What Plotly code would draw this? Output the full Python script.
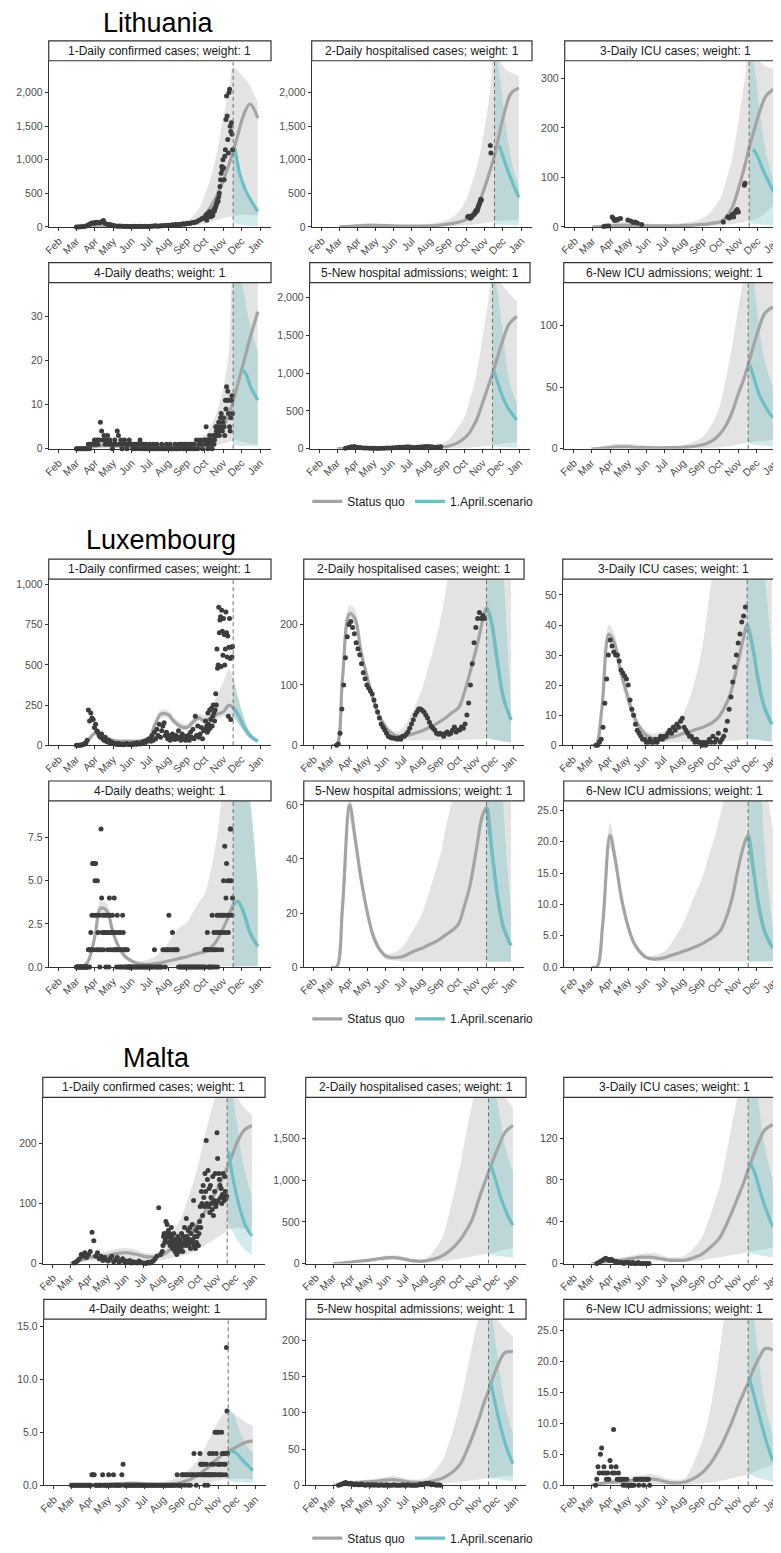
import pandas as pd
import plotly.graph_objects as go

W, H = 781, 1553

# ---------------- shared date grids ----------------
GRID = ["03-01", "03-10", "03-20", "04-01", "04-10", "04-20", "05-01", "05-10", "05-20",
        "06-01", "06-10", "06-20", "07-01", "07-10", "07-20", "08-01", "08-10", "08-20",
        "09-01", "09-10", "09-20", "10-01", "10-10", "10-20", "11-01", "11-10", "11-17",
        "11-25", "12-05", "12-15", "12-28"]
SC_GRID = ["11-17", "11-25", "12-05", "12-15", "12-28"]
FORECAST_START = "2020-11-17"
MONTH_TICKS = ["2020-02-01", "2020-03-01", "2020-04-01", "2020-05-01", "2020-06-01", "2020-07-01",
               "2020-08-01", "2020-09-01", "2020-10-01", "2020-11-01", "2020-12-01", "2021-01-01"]
MONTH_LABELS = ["Feb", "Mar", "Apr", "May", "Jun", "Jul", "Aug", "Sep", "Oct", "Nov", "Dec", "Jan"]
COUNTRIES = ["Lithuania", "Luxembourg", "Malta"]
TITLES = ["1-Daily confirmed cases; weight: 1", "2-Daily hospitalised cases; weight: 1",
          "3-Daily ICU cases; weight: 1", "4-Daily deaths; weight: 1",
          "5-New hospital admissions; weight: 1", "6-New ICU admissions; weight: 1"]
LEGEND_NAMES = ["Status quo", "1.April.scenario"]

# ================= LITHUANIA =================
LT1_sq = [0, 3, 10, 20, 25, 25, 20, 15, 12, 10, 10, 10, 10, 12, 15, 18, 22, 30, 40, 55, 90, 180, 290, 450, 700, 930, 1120, 1380, 1680, 1830, 1620]
LT1_lo = [0, 0, 2, 5, 8, 8, 6, 5, 4, 3, 3, 3, 3, 3, 4, 5, 6, 8, 10, 15, 25, 45, 70, 100, 130, 150, 165, 175, 180, 180, 170]
LT1_hi = [0, 10, 30, 50, 60, 60, 50, 40, 30, 25, 22, 22, 22, 25, 30, 38, 45, 60, 90, 150, 260, 480, 720, 1050, 1650, 2050, 2380, 2320, 2220, 2100, 1850]
LT1_sc_x = ["11-20", "11-28", "12-07", "12-17", "12-28"]
LT1_sc = [1170, 790, 560, 390, 230]
LT1_sc_lo = [60, 40, 25, 15, 10]
LT1_sc_hi = [1250, 880, 620, 430, 280]
LT1_obs_a = [0, 0, 1, 2, 5, 10, 20, 35, 50, 60, 55, 70, 65, 60, 75, 95, 50, 40, 35, 30, 25,
             15, 12, 10, 12, 8, 10, 6, 8, 5, 7, 5, 8, 4, 6, 10, 5, 4, 8, 6, 5,
             8, 10, 12, 15, 10, 12, 18, 15, 20, 22, 25, 20, 30, 28, 35, 30, 40, 35, 45, 40, 50,
             55, 50, 60, 65, 70, 80, 100, 110, 130]
LT1_obs_b = [140, 120, 180, 100, 160, 200, 150, 170, 230, 190, 150, 180, 200, 170, 220, 260, 240, 280, 300, 330,
             360, 400, 380, 450, 500, 600, 700, 800, 900, 850, 1000, 880, 700, 1050, 1150, 1600, 1950, 1650, 1300, 1100, 2000,
             2050, 1500, 1420, 1550, 1380, 1150]

LT2_sq = [0, 3, 8, 15, 20, 22, 22, 20, 18, 15, 12, 10, 10, 10, 12, 15, 20, 28, 40, 55, 75, 110, 180, 320, 600, 850, 1060, 1380, 1750, 1990, 2070]
LT2_lo = [0, 0, 2, 4, 5, 6, 6, 5, 5, 4, 3, 3, 3, 3, 4, 5, 6, 8, 10, 14, 18, 25, 32, 42, 55, 70, 80, 90, 95, 100, 100]
LT2_hi = [0, 10, 25, 40, 50, 55, 55, 50, 45, 40, 35, 30, 30, 32, 38, 45, 60, 80, 110, 160, 250, 420, 650, 950, 1500, 2050, 2600, 2500, 2350, 2300, 2250]
LT2_sc_x = ["11-25", "12-03", "12-11", "12-20", "12-28"]
LT2_sc = [1210, 1000, 800, 600, 440]
LT2_sc_lo = [40, 35, 30, 25, 20]
LT2_sc_hi = [2700, 2300, 1600, 1000, 600]
LT2_obs_x = ["10-03", "10-05", "10-07", "10-09", "10-11", "10-13", "10-15", "10-16", "10-17", "10-18",
             "10-19", "10-20", "10-21", "10-22", "10-23", "10-24", "10-25", "10-26", "11-10", "11-11"]
LT2_obs_y = [150, 160, 130, 140, 170, 180, 200, 230, 220, 250, 240, 270, 300, 330, 350, 380, 410, 400, 1210, 1100]

LT3_sq = [0, 0, 1, 2, 3, 3, 3, 3, 2, 2, 2, 2, 2, 2, 2, 3, 3, 4, 5, 6, 8, 11, 20, 40, 85, 125, 160, 195, 235, 265, 278]
LT3_lo = [0, 0, 0, 0, 0, 0, 0, 0, 0, 0, 0, 0, 0, 0, 0, 0, 0, 1, 1, 1, 2, 3, 4, 6, 8, 10, 12, 15, 20, 30, 45]
LT3_hi = [0, 2, 5, 8, 10, 10, 10, 9, 8, 7, 6, 6, 6, 6, 7, 8, 10, 12, 18, 25, 40, 60, 95, 140, 230, 300, 360, 350, 335, 325, 320]
LT3_sc_x = ["11-24", "12-02", "12-10", "12-19", "12-28"]
LT3_sc = [157, 140, 115, 92, 70]
LT3_sc_lo = [8, 6, 5, 4, 3]
LT3_sc_hi = [360, 330, 230, 150, 90]
LT3_obs_x = ["03-20", "03-24", "03-28", "04-03", "04-05", "04-07", "04-09", "04-11", "04-14", "04-17",
             "04-29", "05-04", "05-08", "05-11", "05-15", "05-22", "10-05", "10-12", "10-15", "10-18",
             "10-20", "10-22", "10-24", "10-26", "10-28", "10-30", "11-09", "11-10"]
LT3_obs_y = [1, 2, 2, 20, 17, 13, 15, 14, 16, 17, 14, 12, 9, 10, 8, 5, 10, 20, 18, 22, 25, 20, 28, 32, 35, 30, 84, 88]

LT4_sq = [0, 0, 0.2, 0.5, 0.7, 0.8, 0.7, 0.6, 0.5, 0.4, 0.3, 0.3, 0.2, 0.2, 0.2, 0.2, 0.2, 0.3, 0.3, 0.4, 0.6, 1.0, 1.6, 2.8, 5, 7.8, 10.8, 14.8, 19.8, 25, 31]
LT4_lo = [0, 0, 0, 0, 0.1, 0.1, 0.1, 0.1, 0, 0, 0, 0, 0, 0, 0, 0, 0, 0, 0, 0.1, 0.2, 0.3, 0.5, 0.8, 1.2, 1.6, 2.0, 1.8, 1.5, 1.2, 1.0]
LT4_hi = [0, 0.3, 0.8, 1.3, 1.6, 1.7, 1.5, 1.3, 1.1, 0.9, 0.8, 0.7, 0.6, 0.6, 0.6, 0.6, 0.7, 0.8, 1.0, 1.4, 2.0, 3.0, 5.0, 8.0, 14, 22, 40, 42, 42, 42, 42]
LT4_sc_x = ["12-01", "12-08", "12-16", "12-28"]
LT4_sc = [18, 17, 14, 11]
LT4_sc_lo = [0.8, 0.7, 0.6, 0.6, 0.5]
LT4_sc_hi = [45, 42, 35, 28, 22]
LT4_obs_a = [0, 0, 0, 0, 0, 0, 0, 0, 0, 0, 1, 0, 1, 1, 1, 2,
             1, 2, 1, 2, 6, 4, 2, 3, 1, 2, 3, 1, 2, 1, 0,
             1, 2, 1, 4, 3, 1, 2, 0, 1, 2, 1, 0, 1, 2, 1,
             1, 0, 1, 0, 1, 1, 0, 2, 1, 0, 1, 0, 1, 0, 0,
             1, 0, 0, 1, 0, 0, 1, 0, 0, 0, 1, 0, 0, 0, 1, 0,
             0, 1, 0, 0, 0, 1, 0, 0, 1, 0, 1, 1, 0, 1, 0,
             1, 0, 1, 0, 1, 0, 1, 0, 2, 0, 1, 2, 1, 0, 2]
LT4_obs_b = [2, 1, 5, 2, 1, 0, 2, 1, 3, 1, 2, 1, 0, 2, 3, 1, 2, 3, 5, 4,
             3, 5, 4, 6, 3, 5, 7, 8, 5, 4, 6, 7, 5, 3, 11, 9, 14, 11, 13, 8, 11,
             5, 4, 7, 11, 12, 8]

LT5_sq = [0, 2, 5, 10, 12, 13, 13, 12, 11, 10, 9, 8, 8, 8, 9, 10, 13, 20, 30, 50, 80, 140, 220, 360, 620, 830, 990, 1200, 1450, 1650, 1750]
LT5_lo = [0, 0, 1, 2, 3, 3, 3, 3, 3, 2, 2, 2, 2, 2, 2, 2, 3, 4, 5, 6, 8, 12, 16, 22, 30, 40, 50, 60, 70, 80, 90]
LT5_hi = [0, 5, 12, 22, 28, 30, 30, 28, 25, 22, 20, 18, 18, 20, 24, 30, 40, 60, 100, 170, 280, 420, 650, 950, 1500, 1950, 2300, 2250, 2150, 2050, 1950]
LT5_sc_x = ["11-20", "11-28", "12-07", "12-17", "12-28"]
LT5_sc = [1020, 820, 630, 490, 380]
LT5_sc_lo = [30, 25, 20, 15, 12]
LT5_sc_hi = [2400, 2100, 1500, 900, 600]
LT5_obs = [5, 15, 25, 30, 20, 15, 10, 8, 6, 5, 5, 4, 5, 6, 8, 10, 12, 15, 18, 20, 22, 25, 20, 15, 18, 22, 25, 30, 28, 25, 20, 22, 25]

LT6_sq = [0, 0, 0.5, 1, 1.5, 1.5, 1.5, 1.2, 1, 1, 0.8, 0.8, 0.8, 0.9, 1, 1.2, 1.5, 2, 3, 4.5, 7, 12, 18, 28, 45, 57, 68, 82, 98, 110, 115]
LT6_lo = [0, 0, 0, 0.2, 0.3, 0.3, 0.3, 0.2, 0.2, 0.2, 0.1, 0.1, 0.1, 0.1, 0.1, 0.2, 0.2, 0.3, 0.4, 0.5, 0.8, 1.2, 1.8, 2.5, 3.5, 4.5, 5, 5.5, 6, 6.5, 7]
LT6_hi = [0, 0.5, 2, 3, 4, 4, 4, 3.5, 3, 2.5, 2.2, 2, 2, 2.2, 2.5, 3, 4, 6, 9, 14, 22, 35, 55, 80, 115, 140, 160, 155, 150, 145, 140]
LT6_sc_x = ["11-20", "11-28", "12-07", "12-17", "12-28"]
LT6_sc = [68, 55, 42, 33, 25]
LT6_sc_lo = [4, 3.5, 3, 2.5, 2]
LT6_sc_hi = [160, 140, 100, 70, 50]

# ================= LUXEMBOURG =================
LU1_sq = [0, 5, 30, 75, 65, 45, 30, 25, 25, 25, 25, 30, 50, 130, 195, 190, 150, 120, 110, 140, 170, 150, 170, 190, 210, 250, 235, 190, 115, 60, 25]
LU1_lo = [0, 3, 22, 60, 52, 35, 22, 18, 18, 18, 18, 22, 40, 110, 170, 165, 130, 100, 95, 120, 150, 130, 140, 160, 180, 190, 175, 140, 85, 42, 18]
LU1_hi = [0, 8, 40, 90, 80, 55, 38, 32, 32, 32, 32, 40, 60, 150, 220, 215, 175, 145, 130, 165, 195, 185, 220, 300, 400, 470, 420, 300, 170, 82, 32]
LU1_sc_x = SC_GRID
LU1_sc = [235, 190, 115, 60, 25]
LU1_sc_lo = [175, 140, 85, 42, 18]
LU1_sc_hi = [420, 300, 170, 82, 32]
LU1_obs_a = [0, 0, 0, 0, 1, 2, 5, 10, 15, 30, 220, 150, 200, 170, 160, 110,
             130, 90, 80, 60, 50, 70, 40, 30, 50, 25, 20, 30, 15, 20, 10,
             12, 10, 8, 5, 10, 4, 6, 8, 3, 5, 8, 10, 6, 4, 5,
             8, 5, 10, 12, 6, 15, 10, 8, 12, 20, 15, 25, 18, 30, 35,
             40, 25, 60, 30, 80, 40, 100, 60, 130, 50, 90, 120, 140, 60, 80, 40,
             60, 30, 40, 70, 50, 35, 60, 40, 90, 50, 30, 70, 40, 55, 30,
             45, 60, 30, 80, 50, 100, 40, 180, 60, 120, 50, 70, 110, 40, 90]
LU1_obs_b = [100, 150, 90, 120, 80, 200, 130, 100, 220, 110, 160, 230, 120, 180, 250, 200, 150, 220, 320, 250,
             600, 480, 500, 860, 700, 780, 800, 490, 840, 710, 560, 790, 690, 500, 600, 830, 700, 550, 680, 180, 610,
             790, 540, 160, 610, 550, 615]

LU2_sq = [0, 0, 110, 218, 210, 155, 111, 78, 50, 30, 20, 15, 15, 17, 20, 24, 28, 33, 40, 46, 54, 62, 85, 120, 165, 205, 228, 205, 140, 80, 42]
LU2_lo = [0, 0, 95, 205, 198, 145, 103, 72, 45, 26, 16, 11, 9, 8, 8, 8, 8, 8, 8, 8, 8, 8, 9, 9, 10, 10, 11, 10, 8, 6, 5]
LU2_hi = [0, 2, 125, 232, 225, 168, 120, 85, 56, 34, 25, 22, 30, 45, 65, 95, 125, 160, 210, 260, 320, 380, 420, 460, 500, 520, 540, 520, 450, 380, 300]
LU2_sc_x = SC_GRID
LU2_sc = [228, 205, 140, 80, 42]
LU2_sc_lo = [11, 10, 8, 6, 5]
LU2_sc_hi = [560, 520, 420, 290, 60]
LU2_obs = [0, 2, 20, 60, 100, 145, 180, 200,
           205, 195, 185, 170, 160, 150, 135, 120, 110, 100,
           95, 90, 85, 75, 65, 55, 45, 35, 30, 25,
           20, 15, 13, 12, 12, 11, 10, 12, 10, 15,
           15, 18, 22, 28, 35, 42, 50, 55, 60, 60,
           58, 55, 50, 45, 38, 32, 28, 25, 20, 18, 20,
           18, 15, 20, 22, 18, 20, 25, 30, 22, 25,
           25, 30, 28, 35, 50, 70, 100, 135, 170, 195,
           210, 220, 210, 215, 210]

LU3_sq = [0, 0, 12, 37, 34, 25, 17, 11, 6.5, 3.5, 2.5, 2, 2, 2.5, 3, 3.8, 4.3, 5, 5.7, 6.5, 7.5, 9.5, 12.5, 17, 27, 35, 40, 34, 22, 13, 7]
LU3_lo = [0, 0, 10, 34, 31, 22, 14, 9, 5, 2.5, 1.8, 1.2, 1, 1, 1, 1, 1, 1, 1, 1, 1, 1, 1.2, 1.4, 1.6, 1.8, 2, 2, 1.8, 1.5, 1.2]
LU3_hi = [0, 0, 14, 40, 37, 27, 19, 13, 8, 5, 4, 4, 4.5, 6, 8, 10, 14, 20, 30, 42, 57, 70, 80, 88, 95, 100, 100, 95, 85, 70, 55]
LU3_sc_x = SC_GRID
LU3_sc = [40, 34, 22, 13, 7]
LU3_sc_lo = [2, 2, 1.8, 1.5, 1.2]
LU3_sc_hi = [100, 95, 80, 60, 30]
LU3_obs = [0, 0, 1, 2, 6, 14, 22, 30,
           35, 33, 31, 30, 30, 28, 25, 24, 23, 22,
           20, 15, 12, 10, 7, 5, 4, 3, 2, 2,
           1, 1, 2, 1, 1, 2, 1, 2, 3, 2,
           3, 3, 4, 5, 4, 6, 5, 7, 6, 8,
           9, 6, 5, 4, 3, 3, 2, 1, 2, 1, 1,
           0, 1, 0, 1, 2, 1, 3, 1, 2, 4,
           1, 2, 3, 5, 8, 12, 16, 21, 26, 30,
           34, 37, 41, 43, 46]

LU4_sq = [0, 0, 0.3, 1.8, 3.4, 3.3, 2.0, 1.2, 0.65, 0.35, 0.22, 0.16, 0.15, 0.2, 0.25, 0.35, 0.42, 0.5, 0.6, 0.7, 0.8, 0.9, 1.1, 1.5, 2.3, 3.0, 3.6, 3.8, 3.1, 2.0, 1.2]
LU4_lo = [0, 0, 0.2, 1.6, 3.0, 3.0, 1.8, 1.05, 0.55, 0.25, 0.12, 0.08, 0.05, 0.05, 0.05, 0.05, 0.05, 0.05, 0.05, 0.05, 0.05, 0.05, 0.05, 0.05, 0.05, 0.05, 0.05, 0.05, 0.05, 0.05, 0.05]
LU4_hi = [0, 0, 0.4, 2.1, 3.8, 3.7, 2.3, 1.4, 0.8, 0.45, 0.35, 0.35, 0.45, 0.6, 0.9, 1.4, 1.9, 2.3, 2.6, 3.1, 3.7, 4.3, 5.5, 7.3, 10.5, 12, 13, 12.5, 11.5, 9.5, 4.5]
LU4_sc_x = SC_GRID
LU4_sc = [3.6, 3.8, 3.1, 2.0, 1.2]
LU4_sc_lo = [0.05, 0.05, 0.05, 0.05, 0.05]
LU4_sc_hi = [13, 13, 12, 10, 4.5]
LU4_obs_a = [0, 0, 0, 0, 0, 0, 0, 0, 0, 0, 0, 0, 0, 0, 0, 0, 0, 0, 0, 0, 1, 1, 0, 1, 2, 1, 3, 6, 1, 6, 3,
             5, 6, 1, 3, 5, 2, 1, 3, 0, 1, 8, 4, 2, 3, 1, 2, 2, 3, 0, 2, 3, 1, 2, 0, 4, 3, 1, 2, 2, 3,
             2, 1, 4, 1, 2, 1, 0, 3, 1, 2, 0, 1, 2, 0, 1, 0, 3, 2, 1, 0, 1, 0, 1, 0, 1, 0, 0, 0, 0, 0, 0]
LU4_obs_b = [0, 0, 0, 0, 0, 0, 0, 0, 0, 0, 0, 0, 0, 0, 0,
             0, 0, 0, 0, 1, 0, 0, 0, 0, 0, 0, 1, 1, 0, 1, 1,
             3, 1, 1, 2, 1, 1, 1, 1, 0, 0, 0, 0, 0, 0, 0,
             0, 0, 0, 0, 0, 0, 0, 0, 0, 0, 0, 0, 0, 0, 0]
LU4_obs_c = [1, 0, 1, 1, 2, 1, 0, 1, 0, 0, 1, 0, 3, 1, 0, 2, 1, 0, 1, 2,
             3, 0, 1, 2, 3, 2, 2, 3, 1, 2, 3, 5, 3, 7, 2, 4, 6, 3, 5, 2, 3,
             5, 8, 8, 5, 3, 4]

LU5_sq = [0, 0, 22, 60, 48, 33, 20, 12, 7, 4, 3.5, 3.5, 4, 5, 6, 7, 8, 9, 10.5, 12, 13.5, 16, 22, 30, 45, 56, 59, 45, 27, 15, 8]
LU5_lo = [0, 0, 18, 55, 44, 30, 18, 10, 6, 3, 2.5, 2.2, 2, 2, 2, 2, 2, 2, 2, 2, 2, 2, 2, 2, 2, 2, 2, 2, 2, 2, 2]
LU5_hi = [0, 0, 26, 65, 52, 36, 22, 14, 8.5, 5, 5, 6, 8, 11, 15, 20, 26, 33, 42, 52, 62, 75, 90, 110, 130, 140, 145, 140, 120, 95, 70]
LU5_sc_x = SC_GRID
LU5_sc = [59, 45, 27, 15, 8]
LU5_sc_lo = [2, 2, 2, 2, 2]
LU5_sc_hi = [145, 140, 110, 60, 20]

LU6_sq = [0, 0, 7, 21, 17, 11, 6.5, 4, 2.5, 1.5, 1.3, 1.3, 1.5, 1.8, 2.1, 2.5, 2.8, 3.2, 3.7, 4.2, 4.8, 5.7, 7.5, 10.5, 16, 19.5, 21, 16, 9.5, 5.5, 3]
LU6_lo = [0, 0, 5.5, 19, 15.5, 10, 5.8, 3.5, 2.1, 1.2, 1, 0.9, 0.9, 0.9, 0.9, 0.9, 0.9, 0.9, 0.9, 0.9, 0.9, 0.9, 0.9, 0.9, 0.9, 0.9, 0.9, 0.9, 0.9, 0.9, 0.9]
LU6_hi = [0, 0, 8.5, 23, 18.5, 12, 7.2, 4.5, 2.9, 1.8, 1.8, 2, 2.5, 3.5, 5, 7, 9, 11.5, 14, 17, 20, 24, 28, 32, 40, 45, 48, 45, 38, 30, 22]
LU6_sc_x = SC_GRID
LU6_sc = [21, 16, 9.5, 5.5, 3]
LU6_sc_lo = [0.9, 0.9, 0.9, 0.9, 0.9]
LU6_sc_hi = [48, 45, 35, 18, 6]

# ================= MALTA =================
MT1_sq = [0, 3, 6, 10, 12, 12, 13, 15, 17, 18, 17, 15, 12, 11, 11, 14, 20, 28, 36, 45, 55, 70, 85, 102, 125, 145, 160, 180, 205, 222, 230]
MT1_lo = [0, 1, 2, 4, 5, 5, 6, 7, 8, 8, 8, 7, 6, 5, 5, 6, 8, 10, 12, 15, 18, 24, 30, 36, 44, 50, 55, 58, 60, 58, 55]
MT1_hi = [0, 5, 10, 16, 18, 18, 20, 23, 25, 26, 25, 22, 18, 17, 18, 25, 38, 55, 75, 100, 130, 170, 210, 250, 290, 320, 330, 300, 275, 260, 248]
MT1_sc_x = ["11-19", "11-28", "12-08", "12-18", "12-28"]
MT1_sc = [187, 135, 92, 62, 46]
MT1_sc_lo = [70, 55, 38, 24, 14]
MT1_sc_hi = [320, 290, 220, 160, 110]
MT1_obs_a = [1, 2, 5, 8, 15, 12, 18, 10, 15,
             20, 52, 38, 12, 18, 8, 12, 5, 10, 6,
             4, 8, 12, 3, 6, 10, 2, 5, 8, 3,
             4, 2, 5, 1, 3, 2, 1, 4, 2, 1,
             1, 0, 2, 1, 3, 4, 8, 12, 93, 15]
MT1_obs_b = [20, 30, 45, 50, 35, 40, 70, 50, 65, 45, 55, 35, 50, 30, 40, 60, 45, 25, 35, 50,
             30, 20, 40, 35, 15, 25, 45, 30, 20, 40, 35,
             25, 50, 30, 20, 45, 35, 60, 40, 30, 75, 45, 35, 55, 30, 40, 60, 25, 50, 35, 65,
             40, 105, 30, 45, 25, 55, 35, 45, 60, 30,
             50, 70, 95, 60, 120, 100, 80, 130, 110, 95, 150, 120, 205, 100, 140, 155, 95, 125, 85, 130,
             110, 100, 90, 145, 80, 105, 120, 150, 95, 100, 218,
             175, 105, 150, 140, 130, 110, 125, 100, 115, 150, 110, 105, 145, 120, 108, 112]

MT2_sq = [0, 2, 8, 18, 25, 32, 40, 50, 60, 70, 72, 65, 50, 35, 28, 28, 40, 60, 95, 140, 200, 290, 390, 520, 780, 960, 1100, 1250, 1430, 1580, 1660]
MT2_lo = [0, 1, 4, 10, 15, 20, 25, 30, 35, 40, 42, 38, 30, 22, 18, 18, 20, 25, 30, 40, 50, 60, 70, 85, 100, 110, 120, 130, 150, 170, 180]
MT2_hi = [0, 4, 12, 26, 35, 45, 55, 68, 80, 95, 100, 92, 72, 55, 50, 55, 90, 180, 320, 550, 850, 1200, 1550, 1900, 2300, 2600, 2800, 2500, 2200, 2000, 1880]
MT2_sc_x = ["11-20", "11-29", "12-09", "12-19", "12-28"]
MT2_sc = [1200, 1000, 760, 580, 460]
MT2_sc_lo = [110, 100, 90, 80, 70]
MT2_sc_hi = [2400, 2200, 1800, 1400, 1100]

MT3_sq = [0, 0, 1, 2, 3, 3, 4, 5, 6, 6, 6, 5, 4, 3, 3, 3, 4, 6, 9, 13, 18, 25, 35, 48, 65, 78, 90, 102, 117, 128, 133]
MT3_lo = [0, 0, 0.5, 1, 1.5, 1.5, 2, 2.5, 3, 3, 3, 2.5, 2, 1.5, 1.5, 1.5, 2, 2.5, 3, 4, 5, 6, 7, 8, 9, 10, 11, 12, 13, 14, 15]
MT3_hi = [0, 0.5, 2, 4, 5, 6, 7, 8, 9, 10, 10, 9, 7, 6, 6, 7, 10, 16, 25, 38, 55, 75, 100, 130, 165, 190, 210, 200, 185, 175, 165]
MT3_sc_x = ["11-20", "11-29", "12-09", "12-19", "12-28"]
MT3_sc = [97, 85, 65, 48, 35]
MT3_sc_lo = [10, 9, 8, 7, 6]
MT3_sc_hi = [210, 190, 150, 110, 80]
MT3_obs = [0, 1, 2, 3, 4, 5, 4, 3, 4, 3, 2, 2, 1, 1, 1, 0, 1, 1, 1, 0, 1, 0, 0, 1, 0, 0, 0, 0, 0, 0]

MT4_sq = [0, 0, 0, 0.02, 0.05, 0.08, 0.1, 0.12, 0.15, 0.17, 0.18, 0.16, 0.12, 0.1, 0.08, 0.08, 0.1, 0.15, 0.3, 0.45, 0.7, 1.1, 1.5, 2.0, 2.6, 3.0, 3.2, 3.45, 3.75, 4.05, 4.2]
MT4_lo = [0, 0, 0, 0, 0, 0, 0, 0, 0, 0, 0, 0, 0, 0, 0, 0, 0, 0, 0.05, 0.08, 0.12, 0.18, 0.25, 0.35, 0.45, 0.55, 0.6, 0.6, 0.6, 0.6, 0.6]
MT4_hi = [0, 0, 0.05, 0.1, 0.15, 0.2, 0.25, 0.3, 0.35, 0.4, 0.4, 0.38, 0.32, 0.3, 0.3, 0.35, 0.45, 0.6, 0.9, 1.3, 1.9, 2.7, 3.6, 4.7, 6.1, 6.8, 7.0, 6.8, 6.4, 6.0, 5.6]
MT4_sc_x = ["11-20", "11-29", "12-09", "12-19", "12-28"]
MT4_sc = [3.3, 3.1, 2.5, 1.9, 1.4]
MT4_sc_lo = [0.4, 0.35, 0.3, 0.28, 0.25]
MT4_sc_hi = [7.1, 6.8, 5.3, 4.0, 3.0]
MT4_obs_a = [0, 0, 0, 0, 0, 0, 0, 0, 0, 0, 0, 0, 0, 0, 0, 0,
             0, 1, 1, 1, 0, 0, 0, 0, 0, 0, 1, 0, 0, 0, 0,
             1, 0, 0, 0, 1, 0, 0, 0, 0, 0, 0, 1, 2, 0, 0,
             0, 0, 0, 0, 0, 0, 0, 0, 0, 0, 0, 0, 0, 0, 0,
             0, 0, 0, 0, 0, 0, 0, 0, 0, 0, 0, 0, 0, 0, 0, 0,
             0, 0, 0, 0, 0, 0, 0, 0, 0, 0, 0, 1, 0, 0, 0,
             1, 1, 0, 1, 1, 0, 1, 0, 1, 1, 3, 1, 0, 1, 1]
MT4_obs_b = [3, 2, 1, 2, 2, 1, 2, 1, 0, 1, 1, 2, 1, 0, 1, 1, 3, 1, 1, 2,
             1, 3, 1, 2, 1, 5, 1, 3, 5, 1, 2, 5, 2, 1, 1, 2, 5, 3, 1, 3, 2,
             3, 2, 1, 13, 7, 3]

MT5_sq = [0, 0, 1, 3, 4, 4.5, 5, 5.5, 6.5, 7.5, 8, 7, 5.5, 4.5, 4, 4, 5, 7, 10, 14, 20, 30, 45, 65, 92, 115, 130, 150, 170, 183, 184]
MT5_lo = [0, 0, 0.5, 1.5, 2, 2.2, 2.5, 2.8, 3.2, 3.7, 4, 3.5, 2.8, 2.2, 2, 2, 2.2, 2.5, 3, 3.5, 4, 5, 6, 7, 8, 9, 10, 11, 12, 13, 14]
MT5_hi = [0, 0.5, 2, 5, 6, 7, 8, 9, 10, 12, 13, 12, 9, 8, 8, 9, 13, 22, 35, 55, 80, 115, 150, 190, 230, 240, 250, 240, 225, 215, 205]
MT5_sc_x = ["11-20", "11-29", "12-09", "12-19", "12-28"]
MT5_sc = [145, 110, 75, 48, 30]
MT5_sc_lo = [10, 9, 8, 7, 6]
MT5_sc_hi = [250, 220, 160, 110, 70]
MT5_obs = [0, 1, 2, 3, 4, 3, 2, 3, 2, 1, 2, 1, 1, 2, 1, 0, 1, 1, 0, 1, 0, 1, 0, 0, 1, 0, 0, 1, 0, 0,
           0, 1, 0, 0, 0, 0, 1, 0, 0, 1, 0, 0, 0, 0, 0, 1, 2, 1, 2, 3, 2, 3, 1, 2, 1, 0, 1, 0]

MT6_sq = [0, 0.2, 0.35, 0.5, 0.55, 0.6, 0.7, 0.8, 0.9, 1.0, 1.0, 0.9, 0.6, 0.45, 0.4, 0.5, 0.75, 1.2, 2.0, 2.9, 4.2, 6.0, 7.8, 10, 13, 15, 16.5, 18.5, 20.5, 22, 21.8]
MT6_lo = [0, 0.1, 0.15, 0.2, 0.2, 0.2, 0.2, 0.2, 0.2, 0.2, 0.2, 0.2, 0.15, 0.1, 0.1, 0.1, 0.15, 0.2, 0.3, 0.4, 0.5, 0.7, 0.9, 1.1, 1.4, 1.6, 1.8, 2.1, 2.5, 2.9, 3.2]
MT6_hi = [0, 0.3, 0.6, 0.9, 1.0, 1.1, 1.2, 1.4, 1.6, 1.8, 1.8, 1.6, 1.2, 1.0, 0.9, 1.0, 2.0, 4.0, 7, 10, 15, 22, 28, 32, 34, 34, 34, 32, 30, 28, 26]
MT6_sc_x = ["11-19", "11-28", "12-08", "12-18", "12-28"]
MT6_sc = [17.2, 14, 10.3, 6.8, 4]
MT6_sc_lo = [1.8, 1.5, 1.2, 0.9, 0.6]
MT6_sc_hi = [32, 28, 20, 13, 8]
MT6_obs = [0, 1, 3, 2, 5, 6, 2, 3, 2, 1, 2, 1,
           4, 3, 2, 9, 2, 3, 1, 2, 1, 1, 1, 0, 1, 0, 1,
           0, 0, 0, 0, 0, 0, 1, 1, 1, 0, 1, 1, 1, 0, 1, 1,
           1, 1, 0]


def dates(md_list):
    return ["2020-" + m for m in md_list]


def seq(start, step, values):
    s = pd.Timestamp("2020-" + start)
    return [(s + pd.Timedelta(days=step * i)).strftime("%Y-%m-%d") for i in range(len(values))]


def panel(key, country, idx, sq, lo, hi, sc_x, sc, sc_lo, sc_hi, obs, ymax, yticks, yfmt):
    for arr in (sq, lo, hi):
        assert len(arr) == len(GRID), key
    assert len(sc_x) == len(sc) and len(sc_lo) == len(SC_GRID) == len(sc_hi), key
    return dict(key=key, country=country, idx=idx, sq=sq, lo=lo, hi=hi, sc_x=sc_x, sc=sc,
                sc_lo=sc_lo, sc_hi=sc_hi, obs=obs, ymax=ymax, yticks=yticks, yfmt=yfmt)


PANELS = [
    panel("LT1", 0, 0, LT1_sq, LT1_lo, LT1_hi, LT1_sc_x, LT1_sc, LT1_sc_lo, LT1_sc_hi,
          [(seq("03-01", 3, LT1_obs_a), LT1_obs_a), (seq("10-01", 1, LT1_obs_b), LT1_obs_b)],
          2474, [0, 500, 1000, 1500, 2000], ","),
    panel("LT2", 0, 1, LT2_sq, LT2_lo, LT2_hi, LT2_sc_x, LT2_sc, LT2_sc_lo, LT2_sc_hi,
          [(dates(LT2_obs_x), LT2_obs_y)], 2474, [0, 500, 1000, 1500, 2000], ","),
    panel("LT3", 0, 2, LT3_sq, LT3_lo, LT3_hi, LT3_sc_x, LT3_sc, LT3_sc_lo, LT3_sc_hi,
          [(dates(LT3_obs_x), LT3_obs_y)], 336, [0, 100, 200, 300], ","),
    panel("LT4", 0, 3, LT4_sq, LT4_lo, LT4_hi, LT4_sc_x, LT4_sc, LT4_sc_lo, LT4_sc_hi,
          [(seq("03-01", 2, LT4_obs_a), LT4_obs_a), (seq("10-01", 1, LT4_obs_b), LT4_obs_b)],
          37.6, [0, 10, 20, 30], ","),
    panel("LT5", 0, 4, LT5_sq, LT5_lo, LT5_hi, LT5_sc_x, LT5_sc, LT5_sc_lo, LT5_sc_hi,
          [(seq("03-15", 5, LT5_obs), LT5_obs)], 2197, [0, 500, 1000, 1500, 2000], ","),
    panel("LT6", 0, 5, LT6_sq, LT6_lo, LT6_hi, LT6_sc_x, LT6_sc, LT6_sc_lo, LT6_sc_hi,
          [], 134.7, [0, 50, 100], ","),
    panel("LU1", 1, 0, LU1_sq, LU1_lo, LU1_hi, LU1_sc_x, LU1_sc, LU1_sc_lo, LU1_sc_hi,
          [(seq("03-01", 2, LU1_obs_a), LU1_obs_a), (seq("10-01", 1, LU1_obs_b), LU1_obs_b)],
          1035, [0, 250, 500, 750, 1000], ","),
    panel("LU2", 1, 1, LU2_sq, LU2_lo, LU2_hi, LU2_sc_x, LU2_sc, LU2_sc_lo, LU2_sc_hi,
          [(seq("03-10", 3, LU2_obs), LU2_obs)], 275.5, [0, 100, 200], ","),
    panel("LU3", 1, 2, LU3_sq, LU3_lo, LU3_hi, LU3_sc_x, LU3_sc, LU3_sc_lo, LU3_sc_hi,
          [(seq("03-10", 3, LU3_obs), LU3_obs)], 55.3, [0, 10, 20, 30, 40, 50], ","),
    panel("LU4", 1, 3, LU4_sq, LU4_lo, LU4_hi, LU4_sc_x, LU4_sc, LU4_sc_lo, LU4_sc_hi,
          [(seq("03-01", 1, LU4_obs_a), LU4_obs_a), (seq("06-01", 2, LU4_obs_b), LU4_obs_b),
           (seq("10-01", 1, LU4_obs_c), LU4_obs_c)],
          9.63, [0, 2.5, 5, 7.5], ".1f"),
    panel("LU5", 1, 4, LU5_sq, LU5_lo, LU5_hi, LU5_sc_x, LU5_sc, LU5_sc_lo, LU5_sc_hi,
          [], 61.5, [0, 20, 40, 60], ","),
    panel("LU6", 1, 5, LU6_sq, LU6_lo, LU6_hi, LU6_sc_x, LU6_sc, LU6_sc_lo, LU6_sc_hi,
          [], 26.5, [0, 5, 10, 15, 20, 25], ".1f"),
    panel("MT1", 2, 0, MT1_sq, MT1_lo, MT1_hi, MT1_sc_x, MT1_sc, MT1_sc_lo, MT1_sc_hi,
          [(seq("03-07", 3, MT1_obs_a), MT1_obs_a), (seq("08-01", 1, MT1_obs_b), MT1_obs_b)],
          277, [0, 100, 200], ","),
    panel("MT2", 2, 1, MT2_sq, MT2_lo, MT2_hi, MT2_sc_x, MT2_sc, MT2_sc_lo, MT2_sc_hi,
          [], 1998, [0, 500, 1000, 1500], ","),
    panel("MT3", 2, 2, MT3_sq, MT3_lo, MT3_hi, MT3_sc_x, MT3_sc, MT3_sc_lo, MT3_sc_hi,
          [(seq("03-10", 3, MT3_obs), MT3_obs)], 159, [0, 40, 80, 120], ","),
    panel("MT4", 2, 3, MT4_sq, MT4_lo, MT4_hi, MT4_sc_x, MT4_sc, MT4_sc_lo, MT4_sc_hi,
          [(seq("03-01", 2, MT4_obs_a), MT4_obs_a), (seq("10-01", 1, MT4_obs_b), MT4_obs_b)],
          15.66, [0, 5, 10, 15], ".1f"),
    panel("MT5", 2, 4, MT5_sq, MT5_lo, MT5_hi, MT5_sc_x, MT5_sc, MT5_sc_lo, MT5_sc_hi,
          [(seq("03-10", 3, MT5_obs), MT5_obs)], 228.8, [0, 50, 100, 150, 200], ","),
    panel("MT6", 2, 5, MT6_sq, MT6_lo, MT6_hi, MT6_sc_x, MT6_sc, MT6_sc_lo, MT6_sc_hi,
          [(seq("03-08", 2, MT6_obs), MT6_obs)], 26.75, [0, 5, 10, 15, 20, 25], ".1f"),
]

# ---------------- layout geometry (page pixels; the page body adds an 8px margin) ----------------
OFFSET = 8
ROW_Y = {(0, 0): (59, 226), (0, 1): (282, 449),
         (1, 0): (580, 747), (1, 1): (803, 970),
         (2, 0): (1101, 1268), (2, 1): (1324, 1491)}
LEFT_PX = {"LT1": 43, "LT2": 308, "LT3": 563, "LT4": 43, "LT5": 306, "LT6": 562,
           "LU1": 43, "LU2": 300, "LU3": 561, "LU4": 43, "LU5": 300, "LU6": 562,
           "MT1": 37, "MT2": 302, "MT3": 562, "MT4": 38, "MT5": 302, "MT6": 562}
COL_W = [224, 222, 224]
STRIP_H = 20
TITLE_POS = [(154, 21), (156, 541), (152, 1061)]
TITLE_SIZE = 27
LEGEND_Y = [502, 1022, 1544]
LEGEND_X = 420
XR0 = pd.Timestamp("2020-01-15")
XR1 = XR0 + pd.Timedelta(days=370)

GRAY_LINE = "#A4A4A4"
TEAL_LINE = "#6BBFC5"
RIB_GRAY = "rgba(185,185,185,0.40)"
RIB_TEAL = "rgba(102,190,196,0.30)"
PT_COL = "#3D3D3D"
AX_COL = "#333333"
FONT = "Liberation Sans, Arial, sans-serif"
TICK_FONT = dict(family=FONT, size=10.5, color="#4D4D4D")


def px_x(v):
    return (v - OFFSET) / W


def px_y(v):
    return 1 - (v - OFFSET) / H


fig = go.Figure()
layout = {}
shapes = []
annotations = []

for n, p in enumerate(PANELS, start=1):
    xa, ya = ("x", "y") if n == 1 else (f"x{n}", f"y{n}")
    country, idx = p["country"], p["idx"]
    row, col = idx // 3, idx % 3
    top, bot = ROW_Y[(country, row)]
    left = LEFT_PX[p["key"]]
    right = left + COL_W[col]

    gx = dates(GRID)
    sx = dates(SC_GRID)
    fig.add_trace(go.Scatter(x=gx, y=p["lo"], xaxis=xa, yaxis=ya, mode="lines",
                             line=dict(width=0, shape="spline"), hoverinfo="skip", showlegend=False))
    fig.add_trace(go.Scatter(x=gx, y=p["hi"], xaxis=xa, yaxis=ya, mode="lines", fill="tonexty",
                             fillcolor=RIB_GRAY, line=dict(width=0, shape="spline"),
                             hoverinfo="skip", showlegend=False))
    fig.add_trace(go.Scatter(x=sx, y=p["sc_lo"], xaxis=xa, yaxis=ya, mode="lines",
                             line=dict(width=0, shape="spline"), hoverinfo="skip", showlegend=False))
    fig.add_trace(go.Scatter(x=sx, y=p["sc_hi"], xaxis=xa, yaxis=ya, mode="lines", fill="tonexty",
                             fillcolor=RIB_TEAL, line=dict(width=0, shape="spline"),
                             hoverinfo="skip", showlegend=False))
    legend_name = "legend" if country == 0 else f"legend{country + 1}"
    show_leg = idx == 0
    fig.add_trace(go.Scatter(x=gx, y=p["sq"], xaxis=xa, yaxis=ya, mode="lines", name=LEGEND_NAMES[0],
                             line=dict(color=GRAY_LINE, width=3.2, shape="spline"),
                             showlegend=show_leg, legend=legend_name, legendrank=1))
    fig.add_trace(go.Scatter(x=dates(p["sc_x"]), y=p["sc"], xaxis=xa, yaxis=ya, mode="lines",
                             name=LEGEND_NAMES[1], line=dict(color=TEAL_LINE, width=3.2, shape="spline"),
                             showlegend=show_leg, legend=legend_name, legendrank=2))
    for ox, oy in p["obs"]:
        fig.add_trace(go.Scatter(x=ox, y=oy, xaxis=xa, yaxis=ya, mode="markers",
                                 marker=dict(color=PT_COL, size=5), cliponaxis=False,
                                 hoverinfo="skip", showlegend=False))

    if p["yfmt"] == ",":
        ytext = [f"{v:,.0f}" for v in p["yticks"]]
    else:
        ytext = [f"{v:.1f}" for v in p["yticks"]]
    layout["xaxis" if n == 1 else f"xaxis{n}"] = dict(
        domain=[max(0, px_x(left)), min(1, px_x(right))], anchor=ya, type="date",
        range=[XR0.strftime("%Y-%m-%d"), XR1.strftime("%Y-%m-%d")],
        tickvals=MONTH_TICKS, ticktext=MONTH_LABELS, tickangle=-45, tickfont=TICK_FONT,
        showline=True, linecolor=AX_COL, linewidth=1, ticks="outside", ticklen=3,
        tickcolor=AX_COL, showgrid=False, zeroline=False)
    layout["yaxis" if n == 1 else f"yaxis{n}"] = dict(
        domain=[px_y(bot), px_y(top)], anchor=xa, range=[0, p["ymax"]], tickvals=p["yticks"],
        ticktext=ytext, tickfont=TICK_FONT, showline=True, linecolor=AX_COL, linewidth=1,
        ticks="outside", ticklen=3, tickcolor=AX_COL, showgrid=False, zeroline=False)
    shapes.append(dict(type="line", xref=xa, yref=f"{ya} domain", x0=FORECAST_START, x1=FORECAST_START,
                       y0=0, y1=1, line=dict(color="#6E6E6E", width=1, dash="4px,3px"), layer="above"))
    shapes.append(dict(type="rect", xref="paper", yref="paper", x0=px_x(left), x1=px_x(right),
                       y0=px_y(top), y1=px_y(top - STRIP_H),
                       fillcolor="white", line=dict(color=AX_COL, width=1.2)))
    annotations.append(dict(xref="paper", yref="paper", x=px_x((left + right) / 2),
                            y=px_y(top - STRIP_H / 2), text=TITLES[idx], showarrow=False,
                            font=dict(family=FONT, size=12, color="#1A1A1A"),
                            xanchor="center", yanchor="middle"))

for c, name in enumerate(COUNTRIES):
    tx, ty = TITLE_POS[c]
    annotations.append(dict(xref="paper", yref="paper", x=px_x(tx), y=px_y(ty), text=name,
                            showarrow=False, xanchor="center", yanchor="middle", borderpad=0,
                            font=dict(family=FONT, size=TITLE_SIZE, color="black")))
    key = "legend" if c == 0 else f"legend{c + 1}"
    layout[key] = dict(orientation="h", x=px_x(LEGEND_X), xanchor="center", y=px_y(LEGEND_Y[c]),
                       yanchor="middle", bgcolor="rgba(0,0,0,0)", itemwidth=30, traceorder="normal",
                       font=dict(family=FONT, size=12, color="#1A1A1A"))

fig.update_layout(width=W, height=H, margin=dict(l=0, r=0, t=0, b=0),
                  paper_bgcolor="white", plot_bgcolor="white",
                  shapes=shapes, annotations=annotations, **layout)
fig.write_html("out.html")
